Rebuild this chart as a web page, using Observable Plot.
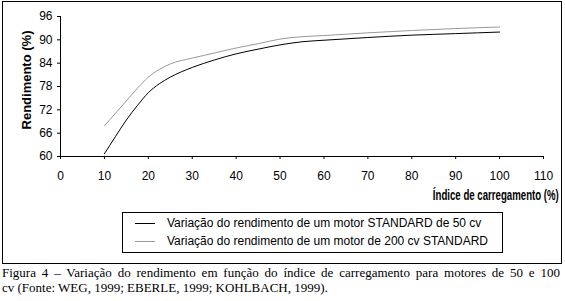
<!DOCTYPE html>
<html>
<head>
<meta charset="utf-8">
<script src="https://cdn.jsdelivr.net/npm/d3@7"></script>
<script src="https://cdn.jsdelivr.net/npm/@observablehq/plot@0.6"></script>
<style>
  html, body { margin: 0; padding: 0; background: #fff; }
  #wrap { position: relative; width: 565px; height: 301px; overflow: hidden; font-family: "Liberation Sans", Arial, sans-serif; }
  #frame { position: absolute; left: 2px; top: 1px; width: 558px; height: 261px; border: 1px solid #000; box-sizing: content-box; }
  #chart { position: absolute; left: 0; top: 0; }
  #ylab { position: absolute; left: 26px; top: 80px; font: bold 13px "Liberation Sans", Arial, sans-serif; white-space: nowrap; transform: translate(-50%, -50%) rotate(-90deg); }
  #xlab { position: absolute; right: 6px; top: 187px; font: bold 14px "Liberation Sans", Arial, sans-serif; white-space: nowrap; transform-origin: right center; }
  #legend { position: absolute; left: 122px; top: 212px; width: 379px; height: 39px; border: 1px solid #000; font: 12px "Liberation Sans", Arial, sans-serif; }
  .row { position: absolute; left: 0; height: 14px; line-height: 14px; white-space: nowrap; }
  .swatch { position: absolute; left: 12px; top: 7px; width: 20px; height: 0; border-top: 1px solid; }
  .ltxt { position: absolute; left: 44px; top: 0; }
  #caption { position: absolute; left: 2px; top: 265px; width: 558px; font: 13px "Liberation Serif", "Times New Roman", serif; line-height: 15px; color: #000; }
  #cap1 { text-align: justify; text-align-last: justify; white-space: nowrap; }
</style>
</head>
<body>
<div id="wrap">
  <div id="frame"></div>
  <div id="chart"></div>
  <div id="ylab"></div>
  <div id="xlab"></div>
  <div id="legend"></div>
  <div id="caption"></div>
</div>
<script>
// ---- data ----
const loadIndex = [10, 12.5, 15, 17.5, 20, 22.5, 25, 30, 35, 40, 45, 50, 55, 60, 70, 80, 90, 100];
const rend50cv  = [60.7, 65.1, 69.4, 73.1, 76.4, 78.7, 80.4, 82.9, 84.8, 86.4, 87.6, 88.7, 89.5, 89.9, 90.6, 91.2, 91.6, 92.0];
const rend200cv = [67.9, 71.1, 74.3, 77.5, 80.4, 82.4, 83.8, 85.3, 86.6, 87.9, 89.0, 90.2, 90.8, 91.1, 91.8, 92.4, 92.9, 93.3];
const seriesNames = [
  "Variação do rendimento de um motor STANDARD de 50 cv",
  "Variação do rendimento de um motor de 200 cv STANDARD"
];
const seriesColors = ["#000000", "#999999"];
const xTicks = [0, 10, 20, 30, 40, 50, 60, 70, 80, 90, 100, 110];
const yTicks = [60, 66, 72, 78, 84, 90, 96];
const yTitle = "Rendimento (%)";
const xTitle = "Índice de carregamento (%)";
const captionLine1 = "Figura 4 – Variação do rendimento em função do índice de carregamento para  motores de 50 e 100";
const captionLine2 = "cv (Fonte: WEG, 1999; EBERLE, 1999; KOHLBACH, 1999).";

const rows = [];
loadIndex.forEach((x, i) => rows.push({x, y: rend50cv[i], s: seriesNames[0]}));
loadIndex.forEach((x, i) => rows.push({x, y: rend200cv[i], s: seriesNames[1]}));

const chart = Plot.plot({
  width: 565,
  height: 265,
  marginLeft: 60,
  marginRight: 22,
  marginTop: 16,
  marginBottom: 109,
  style: {fontFamily: '"Liberation Sans", Arial, sans-serif', fontSize: "12px", color: "#000", background: "transparent", overflow: "visible"},
  x: {domain: [0, 110], ticks: xTicks, label: null},
  y: {domain: [60, 96], ticks: yTicks, label: null},
  color: {domain: seriesNames, range: seriesColors},
  marks: [
    Plot.axisX({ticks: xTicks, tickSize: 3, tickPadding: 12, label: null, fontSize: 12, stroke: "#000", fill: "#000"}),
    Plot.axisY({ticks: yTicks, tickSize: 3, tickPadding: 5, label: null, fontSize: 12, stroke: "#000", fill: "#000"}),
    Plot.ruleX([0], {stroke: "#000"}),
    Plot.ruleY([60], {stroke: "#000"}),
    Plot.line(rows, {x: "x", y: "y", z: "s", stroke: "s", strokeWidth: 1, curve: "monotone-x"})
  ]
});
document.getElementById("chart").appendChild(chart);

document.getElementById("ylab").textContent = yTitle;
const xl = document.getElementById("xlab");
xl.textContent = xTitle;
const w = xl.getBoundingClientRect().width;
xl.style.transform = `scaleX(${126 / w})`;

const leg = document.getElementById("legend");
seriesNames.forEach((name, i) => {
  const r = document.createElement("div");
  r.className = "row";
  r.style.top = (i === 0 ? 3 : 21) + "px";
  r.style.width = "100%";
  const sw = document.createElement("span");
  sw.className = "swatch";
  sw.style.borderTopColor = seriesColors[i];
  const t = document.createElement("span");
  t.className = "ltxt";
  t.textContent = name;
  r.appendChild(sw); r.appendChild(t);
  leg.appendChild(r);
});

const cap = document.getElementById("caption");
const c1 = document.createElement("div"); c1.id = "cap1"; c1.textContent = captionLine1;
const c2 = document.createElement("div"); c2.textContent = captionLine2;
cap.appendChild(c1); cap.appendChild(c2);
</script>
</body>
</html>
